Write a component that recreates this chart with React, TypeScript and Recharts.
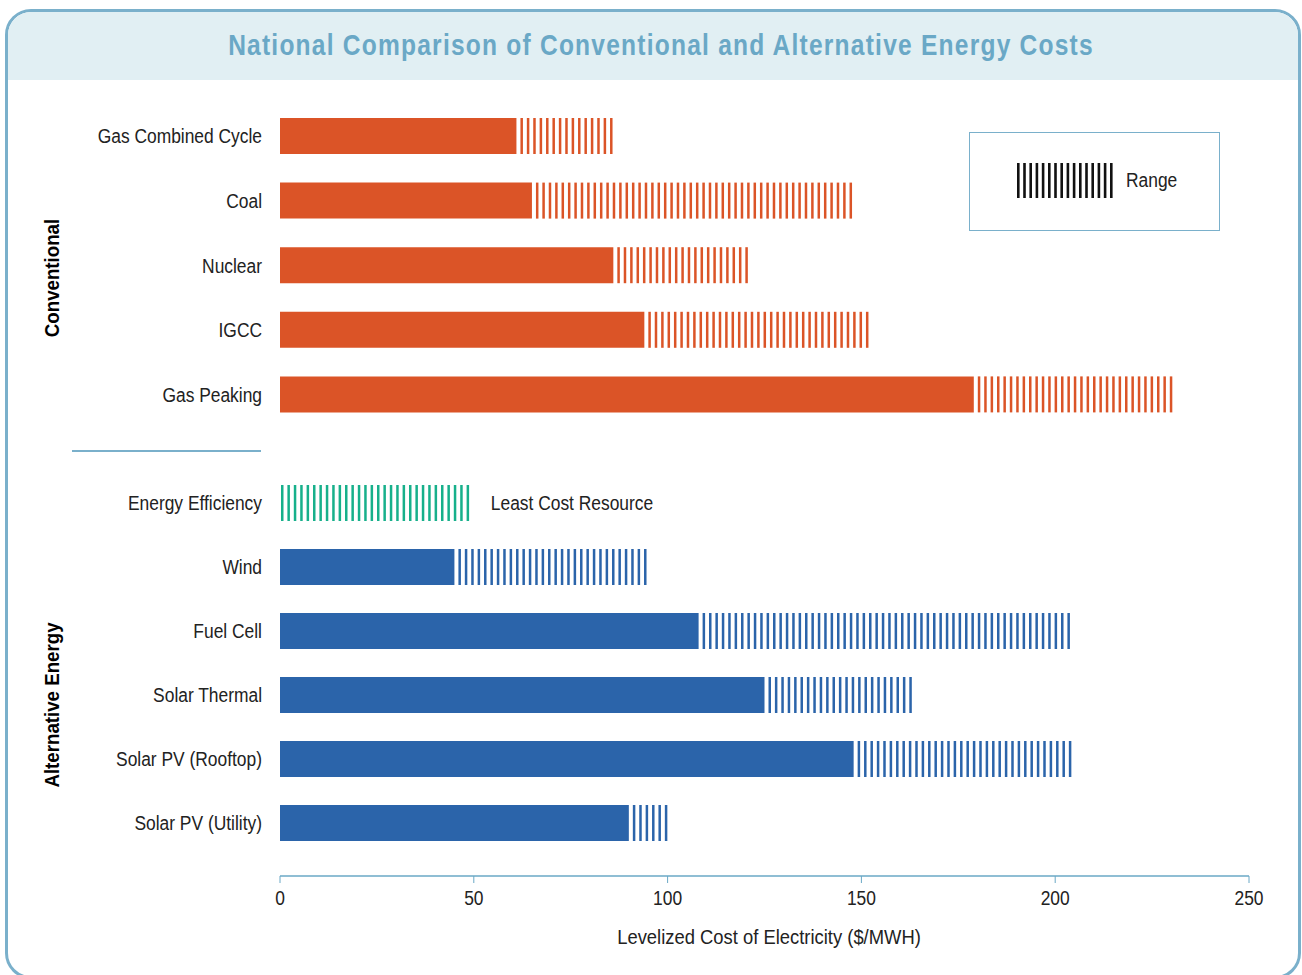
import React from "react";
import { BarChart, Bar, XAxis, YAxis, Cell, LabelList } from "recharts";

// ── Data ─────────────────────────────────────────────────────────────────────
const convCategories = ["Gas Combined Cycle", "Coal", "Nuclear", "IGCC", "Gas Peaking"];
const convLow = [61, 65, 86, 94, 179];
const convHigh = [87, 148, 122, 153, 230];

const altCategories = [
  "Energy Efficiency",
  "Wind",
  "Fuel Cell",
  "Solar Thermal",
  "Solar PV (Rooftop)",
  "Solar PV (Utility)",
];
const altLow = [0, 45, 108, 125, 148, 90];
const altHigh = [50, 95, 205, 164, 204, 101];
const altNotes = ["Least Cost Resource", "", "", "", "", ""];

const xTicks = [0, 50, 100, 150, 200, 250];

// ── Theme ────────────────────────────────────────────────────────────────────
const ORANGE = "#DB5427";
const BLUE = "#2B64AA";
const GREEN = "#17B08B";
const FRAME = "#7AB0CB";
const TITLE = "#6AA8C6";
const HEADER_BG = "#E1EFF3";
const TEXT = "#222";
const FONT = "'Liberation Sans', Arial, sans-serif";
const SX = 0.87; // horizontal squeeze to mimic the condensed face

const convData = convCategories.map((name, i) => ({
  name,
  low: convLow[i],
  range: convHigh[i] - convLow[i],
  color: ORANGE,
  note: "",
}));

const altData = altCategories.map((name, i) => ({
  name,
  low: altLow[i],
  range: altHigh[i] - altLow[i],
  color: i === 0 ? GREEN : BLUE,
  note: altNotes[i],
}));

// striped "range" part of each bar
function StripeShape(props: any) {
  const { x, y, width, height, payload } = props;
  if (!width || width <= 0) return null;
  const color = payload?.color ?? BLUE;
  const period = 6.4;
  const stripe = 2.5;
  const start = x + (payload?.low > 0 ? 4 : 1);
  const rects = [];
  for (let sx = start, k = 0; sx + stripe <= x + width + 1; sx += period, k++) {
    rects.push(<rect key={k} x={sx} y={y} width={stripe} height={height} fill={color} />);
  }
  return <g>{rects}</g>;
}

function CondText({ x, y, anchor, dy, children, size = 20, weight = 400 }: any) {
  return (
    <text
      transform={`translate(${x},${y}) scale(${SX},1)`}
      textAnchor={anchor}
      dy={dy}
      fill={TEXT}
      fontSize={size}
      fontWeight={weight}
      fontFamily={FONT}
    >
      {children}
    </text>
  );
}

function YTick(props: any) {
  const { x, y, payload } = props;
  return <CondText x={x} y={y} anchor="end" dy="0.35em">{payload.value}</CondText>;
}

function XTick(props: any) {
  const { x, y, payload } = props;
  return <CondText x={x} y={y} anchor="middle" dy="0.71em">{payload.value}</CondText>;
}

function NoteLabel(props: any) {
  const { x, y, width, height, value } = props;
  if (!value) return null;
  return (
    <CondText x={x + width + 17} y={y + height / 2} anchor="start" dy="0.35em">
      {value}
    </CondText>
  );
}

function Squeezed({ children, style }: any) {
  return (
    <div style={{ position: "absolute", whiteSpace: "nowrap", fontFamily: FONT, ...style }}>
      {children}
    </div>
  );
}

export default function App() {
  return (
    <div style={{ position: "absolute", left: 0, top: 0, width: 1302, height: 975, overflow: "hidden", background: "#fff", fontFamily: FONT }}>
      {/* frame + header */}
      <div style={{
        position: "absolute", left: 5, top: 9, width: 1296, height: 970,
        border: `3px solid ${FRAME}`, borderRadius: 26, boxSizing: "border-box", overflow: "hidden",
      }}>
        <div style={{ height: 68, background: HEADER_BG }} />
      </div>
      <Squeezed style={{
        left: 661, top: 45, transform: "translate(-50%, -50%) scale(0.818, 1)",
        color: TITLE, fontWeight: 700, fontSize: 30, letterSpacing: 1.5,
      }}>
        National Comparison of Conventional and Alternative Energy Costs
      </Squeezed>

      {/* group labels */}
      <Squeezed style={{
        left: 52, top: 278, transform: "translate(-50%, -50%) rotate(-90deg) scale(0.89, 1)",
        fontWeight: 700, fontSize: 21, color: "#000",
      }}>
        Conventional
      </Squeezed>
      <Squeezed style={{
        left: 52, top: 705, transform: "translate(-50%, -50%) rotate(-90deg) scale(0.89, 1)",
        fontWeight: 700, fontSize: 21, color: "#000",
      }}>
        Alternative Energy
      </Squeezed>
      <div style={{ position: "absolute", left: 72, top: 450, width: 189, height: 1.5, background: FRAME }} />

      {/* legend */}
      <div style={{
        position: "absolute", left: 969, top: 132, width: 251, height: 99,
        border: `1.5px solid ${FRAME}`, boxSizing: "border-box",
      }}>
        <svg width={110} height={36} style={{ position: "absolute", left: 46, top: 30 }}>
          {Array.from({ length: 16 }).map((_, i) => (
            <rect key={i} x={1 + i * 6.2} y={0} width={2.6} height={35} fill="#111" />
          ))}
        </svg>
      </div>
      <Squeezed style={{
        left: 1126, top: 180, transform: "translate(0, -50%) scale(0.87, 1)", transformOrigin: "left center",
        fontSize: 20, color: TEXT,
      }}>
        Range
      </Squeezed>

      {/* axis title */}
      <Squeezed style={{
        left: 769, top: 937, transform: "translate(-50%, -50%) scale(0.92, 1)",
        fontSize: 20, color: TEXT,
      }}>
        Levelized Cost of Electricity ($/MWH)
      </Squeezed>

      {/* conventional chart */}
      <div style={{ position: "absolute", left: 0, top: 0 }}>
        <BarChart
          width={1302}
          height={427}
          data={convData}
          layout="vertical"
          margin={{ top: 104, right: 53, bottom: 0, left: 0 }}
          barSize={36}
        >
          <XAxis type="number" domain={[0, 250]} hide />
          <YAxis
            type="category"
            dataKey="name"
            width={280}
            axisLine={false}
            tickLine={false}
            tickSize={0}
            tickMargin={18}
            tick={<YTick />}
          />
          <Bar dataKey="low" stackId="a" isAnimationActive={false}>
            {convData.map((d) => (
              <Cell key={d.name} fill={d.color} />
            ))}
          </Bar>
          <Bar dataKey="range" stackId="a" shape={StripeShape} isAnimationActive={false} />
        </BarChart>
      </div>

      {/* alternative chart */}
      <div style={{ position: "absolute", left: 0, top: 0 }}>
        <BarChart
          width={1302}
          height={975}
          data={altData}
          layout="vertical"
          margin={{ top: 471, right: 53, bottom: 19, left: 0 }}
          barSize={36}
        >
          <XAxis
            type="number"
            domain={[0, 250]}
            ticks={xTicks}
            height={80}
            axisLine={{ stroke: TITLE, strokeWidth: 1.5 }}
            tickLine={{ stroke: TITLE, strokeWidth: 1 }}
            tickSize={7}
            tickMargin={8}
            tick={<XTick />}
          />
          <YAxis
            type="category"
            dataKey="name"
            width={280}
            axisLine={false}
            tickLine={false}
            tickSize={0}
            tickMargin={18}
            padding={{ top: 0, bottom: 21 }}
            tick={<YTick />}
          />
          <Bar dataKey="low" stackId="a" isAnimationActive={false}>
            {altData.map((d) => (
              <Cell key={d.name} fill={d.color} />
            ))}
          </Bar>
          <Bar dataKey="range" stackId="a" shape={StripeShape} isAnimationActive={false}>
            <LabelList dataKey="note" content={<NoteLabel />} />
          </Bar>
        </BarChart>
      </div>
    </div>
  );
}
